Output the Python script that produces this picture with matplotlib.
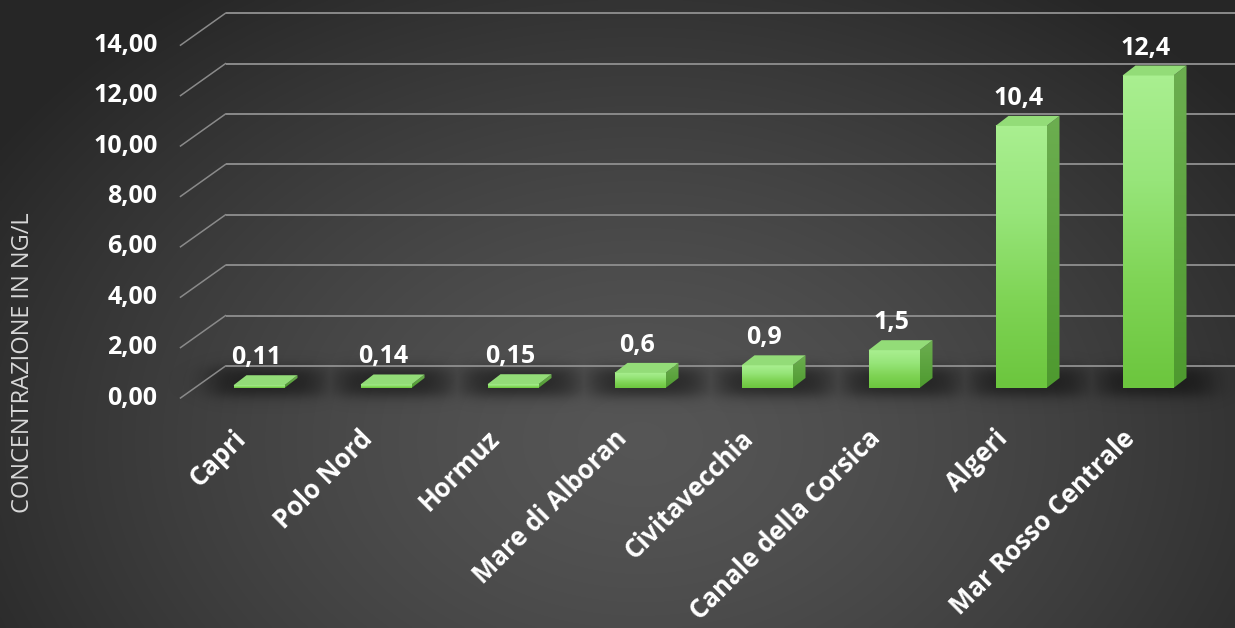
import numpy as np
import matplotlib
matplotlib.use("Agg")
import matplotlib.pyplot as plt
from matplotlib.patches import Polygon
from matplotlib.colors import LinearSegmentedColormap

# ---- data -------------------------------------------------------------
sites = ["Capri", "Polo Nord", "Hormuz", "Mare di Alboran", "Civitavecchia",
         "Canale della Corsica", "Algeri", "Mar Rosso Centrale"]
values = [0.11, 0.14, 0.15, 0.6, 0.9, 1.5, 10.4, 12.4]
value_labels = ["0,11", "0,14", "0,15", "0,6", "0,9", "1,5", "10,4", "12,4"]
y_ticks = [0, 2, 4, 6, 8, 10, 12, 14]
y_tick_labels = ["0,00", "2,00", "4,00", "6,00", "8,00", "10,00", "12,00", "14,00"]
y_title = "CONCENTRAZIONE IN NG/L"

# ---- figure / coordinate system ----------------------------------------
W, H, DPI = 1235, 628, 100
fig = plt.figure(figsize=(W / DPI, H / DPI), dpi=DPI)
ax = fig.add_axes([0, 0, 1, 1])
ax.set_axis_off()

SLOT, UNIT = 127.0, 25.2          # pixels per category slot / per value unit
X0, Y0 = 259.0, 388.0             # pixel position of category 0, value 0
xlim = (-X0 / SLOT, (W - X0) / SLOT)
ylim = ((Y0 - H) / UNIT, Y0 / UNIT)

BACK = (30 / SLOT, 22 / UNIT)     # oblique offset bar plane -> back wall
FRONT = (-15 / SLOT, -10 / UNIT)  # oblique offset bar plane -> front edge
DEPTH = (13 / SLOT, 10 / UNIT)    # depth of each bar
HALF = 25.5 / SLOT                # half width of bar front face
FONT = "Open Sans"

# ---- background: soft radial gradient -----------------------------------
gy, gx = np.mgrid[0:H:2, 0:W:2]
r = np.sqrt(((gx - 640) / 720.0) ** 2 + ((gy - 440) / 520.0) ** 2)
lum = np.clip(0.335 - 0.17 * np.clip(r, 0, 1.15) ** 1.4, 0.15, 1)
bg = np.dstack([lum, lum, lum])
ax.imshow(bg, extent=(xlim[0], xlim[1], ylim[0], ylim[1]), aspect="auto",
          interpolation="bilinear", zorder=0)

# ---- floor shadows under the bars --------------------------------------
sx = np.linspace(xlim[0], xlim[1], 1200)
sy = np.linspace(-1.5, 1.5, 160)
SX, SY = np.meshgrid(sx, sy)


def smooth_box(t, a, b, soft):
    return 1 / (1 + np.exp(-(t - a) / soft)) * 1 / (1 + np.exp((t - b) / soft))


shadow = np.zeros_like(SX)
for i, v in enumerate(values):
    s = smooth_box(SX, i - 0.38, i + 0.50, 0.07) * smooth_box(SY, -0.30, 0.80, 0.15)
    shadow = np.maximum(shadow, 0.5 * s)
shadow_rgba = np.zeros(SX.shape + (4,))
shadow_rgba[..., 3] = shadow
ax.imshow(shadow_rgba, extent=(sx[0], sx[-1], sy[0], sy[-1]), origin="lower",
          aspect="auto", interpolation="bilinear", zorder=1)

# ---- gridlines: back wall + left diagonal -------------------------------
grid_col = "#8a8a8a"
left = -0.5
for t in y_ticks:
    ax.plot([left + BACK[0], xlim[1]], [t + BACK[1], t + BACK[1]],
            color=grid_col, lw=1.4, zorder=2, solid_capstyle="butt")
    ax.plot([left + FRONT[0], left + BACK[0]], [t + FRONT[1], t + BACK[1]],
            color=grid_col, lw=1.1, zorder=2)

for t, lab in zip(y_ticks, y_tick_labels):
    ax.text(left + FRONT[0] - 23 / SLOT, t + FRONT[1], lab, ha="right",
            va="center", color="white", fontsize=18, fontweight="bold",
            family=FONT, zorder=5)

ax.text(-236 / SLOT, 25 / UNIT, y_title, rotation=90, ha="center", va="center",
        color="#d8d8d8", fontsize=17, family=FONT, zorder=5)

# ---- bars ---------------------------------------------------------------
front_cmap = LinearSegmentedColormap.from_list(
    "front", ["#6cc63e", "#7fd455", "#97e57a", "#a9ef90"])
side_cmap = LinearSegmentedColormap.from_list("side", ["#4e9a2f", "#6cae50"])
top_col = "#93dc78"

for i, v in enumerate(values):
    x0, x1 = i - HALF, i + HALF
    grad = np.linspace(0, 1, 64).reshape(-1, 1)
    ax.imshow(grad, extent=(x0, x1, 0, v), origin="lower", aspect="auto",
              cmap=front_cmap, interpolation="bilinear", zorder=3)
    side = Polygon([(x1, 0), (x1 + DEPTH[0], DEPTH[1]),
                    (x1 + DEPTH[0], v + DEPTH[1]), (x1, v)],
                   closed=True, facecolor="none", edgecolor="none", zorder=3)
    ax.add_patch(side)
    side_img = ax.imshow(grad, extent=(x1, x1 + DEPTH[0], 0, v + DEPTH[1]),
                         origin="lower", aspect="auto", cmap=side_cmap,
                         interpolation="bilinear", zorder=3)
    side_img.set_clip_path(side)
    top = Polygon([(x0, v), (x1, v), (x1 + DEPTH[0], v + DEPTH[1]),
                   (x0 + DEPTH[0], v + DEPTH[1])],
                  closed=True, facecolor=top_col, edgecolor="none", zorder=3)
    ax.add_patch(top)
    ax.text(i - 0.02, v + DEPTH[1] + 11 / UNIT, value_labels[i], ha="center",
            va="baseline", color="white", fontsize=18, fontweight="bold",
            family=FONT, zorder=5)
    ax.text(i - 8 / SLOT, -37 / UNIT, sites[i], rotation=45, ha="right",
            va="top", color="white", fontsize=18.5, fontweight="bold",
            family=FONT, zorder=5)

ax.set_xlim(*xlim)
ax.set_ylim(*ylim)
fig.savefig("out.png", dpi=DPI)
